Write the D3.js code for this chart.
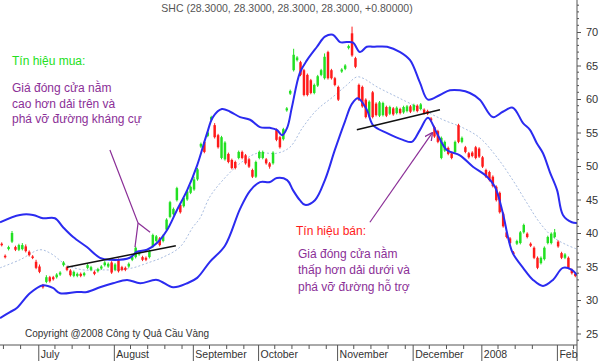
<!DOCTYPE html>
<html><head><meta charset="utf-8">
<script src="https://cdn.jsdelivr.net/npm/d3@7"></script>
<style>body{margin:0;background:#fff}svg{display:block}text{font-family:"Liberation Sans",Arial,sans-serif}</style>
</head><body>
<script>
const title = "SHC (28.3000, 28.3000, 28.3000, 28.3000, +0.80000)";
const open = [38.4,36.6,37.6,38.7,37.9,37.5,37.6,38.0,37.2,36.5,35.7,35.0,32.2,32.7,33.4,33.4,33.4,33.8,35.2,34.9,34.4,33.6,33.6,33.9,33.7,34.8,34.5,34.2,34.3,34.7,35.2,35.0,35.6,34.5,36.0,34.9,34.8,35.0,36.0,36.4,36.8,36.4,36.3,36.4,38.0,38.8,39.2,38.8,40.5,42.4,42.8,44.9,44.2,44.0,45.0,46.0,46.5,48.0,52.9,53.6,54.5,56.9,56.1,54.6,51.2,51.0,51.8,50.9,50.6,51.2,52.1,51.6,51.0,49.4,48.4,51.2,51.2,51.0,50.4,50.4,55.4,54.3,54.0,58.3,60.8,64.3,65.8,65.5,64.3,63.6,62.8,60.9,62.0,63.6,63.1,67.0,64.3,63.1,61.8,64.1,64.5,67.6,69.8,66.1,62.1,61.8,59.9,57.4,61.0,59.3,57.5,57.6,58.8,57.8,58.6,57.9,58.5,58.0,58.2,58.9,58.3,59.0,58.5,58.4,58.2,57.1,55.8,55.2,51.2,52.3,52.7,51.9,52.1,56.1,53.6,52.8,51.9,52.0,52.8,52.6,51.3,49.4,49.1,48.4,46.9,46.0,42.9,40.1,39.2,37.1,38.4,38.5,40.1,39.9,38.4,37.8,36.3,35.5,36.1,38.5,38.5,39.4,38.7,37.0,36.3,36.3,34.5,33.9];
const close = [38.2,36.4,37.9,40.0,37.5,38.2,38.2,37.3,36.7,36.3,34.8,34.2,31.9,33.4,32.8,33.1,33.8,34.1,35.6,34.5,33.7,34.2,33.9,33.6,34.0,35.2,34.9,33.9,34.6,35.0,35.6,35.4,34.1,35.3,34.3,34.5,34.5,35.4,36.4,37.8,37.1,36.0,36.0,37.3,39.7,39.5,38.2,39.6,42.0,44.6,43.6,46.7,43.1,45.2,46.2,46.9,48.0,49.5,53.3,52.1,55.0,57.3,54.3,52.8,54.3,53.5,50.6,49.7,49.7,52.1,51.2,50.4,49.9,48.4,50.6,52.1,52.1,50.4,49.9,52.0,53.9,52.8,55.5,58.6,61.2,66.6,66.2,63.6,60.6,60.6,60.9,62.1,63.4,64.3,66.3,63.1,63.1,62.1,59.9,64.4,65.0,67.9,66.5,64.8,59.9,58.9,57.3,59.6,57.3,57.6,59.5,59.4,57.5,58.8,57.7,58.7,57.9,58.8,58.9,58.1,59.1,58.2,59.2,57.9,57.8,56.8,54.4,53.6,54.2,53.6,51.8,51.2,53.6,53.6,54.2,52.1,51.3,51.5,51.2,51.4,49.9,48.4,47.9,47.0,44.9,43.1,41.0,39.4,38.5,36.9,38.8,40.1,41.2,39.4,38.1,36.3,34.8,36.3,37.8,39.4,39.9,40.1,38.0,36.3,36.8,34.8,34.0,33.6];
const high = [38.6,36.8,38.1,40.3,38.1,38.4,38.5,38.3,37.4,36.7,36.0,35.3,32.4,33.7,33.6,33.6,34.0,34.3,35.8,35.1,34.6,34.4,34.1,34.1,34.2,35.4,35.1,34.4,34.8,35.2,35.8,35.6,35.8,35.5,36.2,35.1,35.0,35.6,36.6,38.0,37.3,36.6,36.5,37.5,39.9,39.7,39.4,39.8,42.2,44.8,43.8,46.9,44.4,45.4,46.4,47.1,48.4,49.7,53.5,53.8,55.2,57.5,56.4,54.8,54.5,53.7,52.0,51.1,50.8,52.3,52.3,51.8,51.2,49.6,50.8,52.3,52.3,51.2,50.6,52.2,55.6,54.5,55.7,58.8,61.4,67.5,66.4,65.7,64.5,63.8,63.0,62.3,63.6,64.5,66.8,67.2,64.5,63.3,62.0,64.6,65.2,68.1,70.8,66.3,62.3,62.0,60.1,59.8,61.2,59.5,59.7,59.6,59.0,59.0,58.8,58.9,58.7,59.0,59.1,59.1,59.3,59.2,59.4,58.6,58.4,57.3,56.0,55.4,54.4,53.8,52.9,52.1,53.8,56.3,54.4,53.0,52.1,52.2,53.0,52.8,51.5,49.6,49.3,48.6,47.1,46.2,43.1,40.3,39.4,37.3,39.0,40.3,41.4,40.1,38.6,38.0,36.5,36.5,38.0,39.6,40.1,40.6,38.9,37.2,37.0,36.5,34.7,34.1];
const low = [38.0,36.2,37.4,38.5,37.3,37.3,37.4,37.1,36.5,36.1,34.6,34.0,31.7,32.5,32.6,32.9,33.2,33.6,35.0,34.3,33.5,33.4,33.4,33.4,33.5,34.6,34.3,33.7,34.1,34.5,35.0,34.8,33.9,34.3,34.1,34.3,34.3,34.8,35.8,36.2,36.6,35.8,35.8,36.2,37.8,38.6,38.0,38.6,40.3,42.2,42.6,44.7,42.9,43.8,44.8,45.8,46.3,47.8,52.7,51.9,54.3,56.7,54.1,52.6,51.0,50.8,50.4,49.5,49.5,51.0,51.0,50.2,49.7,48.2,48.2,51.0,51.0,50.2,49.6,50.2,53.7,52.6,53.8,58.1,60.6,64.1,65.6,63.4,60.4,60.4,60.7,60.7,61.8,63.4,62.9,62.9,62.9,61.9,59.7,63.9,64.3,67.4,66.3,64.6,59.7,58.7,57.1,57.2,57.1,57.4,57.3,57.4,57.3,57.6,57.5,57.7,57.7,57.8,58.0,57.9,58.1,58.0,58.3,57.7,57.6,56.6,54.2,53.4,51.0,52.1,51.6,51.0,51.9,53.4,53.4,51.9,51.1,51.3,51.0,51.2,49.7,48.2,47.7,46.8,44.7,42.9,40.8,39.2,38.3,36.7,38.2,38.3,39.9,39.2,37.9,36.1,34.6,35.3,35.9,38.3,38.3,39.2,37.8,36.1,36.1,34.6,33.8,33.4];

// Bollinger bands as [day index, value]
const upperBand = [[-0.5,41.6],[5.3,42.7],[9.1,42.7],[12.0,42.2],[15.5,42.2],[17.8,40.9],[20.8,39.4],[24.8,37.9],[28.6,36.3],[31.5,36.0],[37.3,36.3],[39.4,37.2],[42.3,37.5],[45.2,38.5],[48.1,40.4],[51.0,43.4],[54.0,46.4],[56.9,50.1],[59.8,54.9],[61.5,57.3],[64.1,58.5],[66.5,58.1],[69.4,57.3],[72.3,56.9],[75.2,55.8],[78.1,55.7],[80.1,55.4],[81.6,54.6],[83.1,55.7],[84.5,58.8],[86.8,63.9],[88.9,65.8],[91.8,67.8],[94.1,69.3],[96.4,69.6],[98.5,68.5],[100.5,68.5],[102.3,68.4],[104.3,67.0],[106.3,67.8],[108.1,67.8],[112.2,67.8],[116.0,67.0],[118.9,65.8],[121.8,62.4],[124.1,59.9],[127.6,60.6],[130.5,61.3],[133.4,61.3],[136.3,60.9],[139.2,59.9],[143.0,57.3],[145.9,58.1],[148.8,58.7],[151.8,56.4],[153.8,55.4],[155.8,53.4],[157.6,51.9],[159.6,49.1],[161.7,46.4],[163.4,42.7],[166.0,41.6],[167.5,41.5]];
const lowerBand = [[-0.5,27.3],[2.4,28.2],[4.4,28.8],[8.2,31.0],[12.0,32.2],[14.9,31.8],[17.0,31.0],[21.9,31.2],[24.8,31.2],[28.6,31.9],[32.4,32.5],[36.5,33.0],[40.3,32.5],[45.2,33.0],[49.9,31.9],[54.0,32.5],[56.9,33.3],[60.6,35.7],[65.0,38.1],[69.4,43.6],[72.3,46.3],[75.2,47.6],[78.1,47.6],[80.1,48.2],[83.1,47.9],[84.8,46.4],[86.8,44.9],[88.3,44.2],[91.2,44.9],[94.1,47.9],[97.0,52.4],[99.9,56.6],[102.0,59.3],[103.7,60.1],[106.3,58.4],[108.1,56.1],[112.2,54.9],[116.8,53.9],[119.4,53.6],[121.8,55.4],[124.1,57.2],[126.7,54.9],[129.6,52.4],[133.4,51.6],[137.2,49.9],[141.3,48.4],[143.6,46.9],[145.9,43.0],[147.4,39.4],[148.8,37.0],[151.8,34.8],[154.7,33.0],[157.6,32.1],[160.5,33.0],[163.4,34.8],[166.0,34.5],[167.5,33.7]];
const middleBand = [[-0.5,34.8],[5.3,36.0],[11.1,37.5],[14.1,37.0],[19.0,35.2],[23.7,34.5],[28.6,34.5],[33.6,34.5],[38.2,34.8],[42.3,35.5],[47.0,36.4],[51.9,37.9],[55.7,40.9],[57.7,42.2],[60.6,45.4],[64.4,47.9],[69.4,50.4],[74.3,51.9],[80.1,51.9],[83.9,52.8],[87.7,55.8],[91.8,58.4],[96.4,60.3],[100.5,62.1],[103.4,63.3],[105.2,63.1],[109.3,61.8],[115.1,60.3],[122.6,58.4],[128.5,56.9],[134.3,55.7],[139.2,54.2],[144.2,51.3],[148.8,47.9],[152.9,44.5],[156.7,41.5],[160.5,39.4],[164.6,38.2],[167.5,37.6]];

// trend lines and annotation pointers [index, value]
const buyTrend = [[19,34.9],[50.7,38.1]];
const sellTrend = [[103.4,55.4],[127.6,58.4]];
const buyPointer = [[31.5,52.4],[39.7,41.5],[38.8,37.9]];
const buyPointer2 = [[39.7,41.5],[43.2,40.1]];
const sellArrow = [[107.2,41.6],[125.3,54.9]];

const monthTicks = [11,33,56,75,98,120,140,162];
const monthLabels = ["July","August","September","October","November","December","2008","Feb"];
const weekTicks = [1,6,16,21,26,38,43,48,53,61,66,71,80,85,90,95,103,108,113,118,125,130,135,145,150,155,167];
const yTicks = [25,30,35,40,45,50,55,60,65,70];
const yMinor = [24,26,27,28,29,31,32,33,34,36,37,38,39,41,42,43,44,46,47,48,49,51,52,53,54,56,57,58,59,61,62,63,64,66,67,68,69,71,72,73,74];

const buyTitle = "Tín hiệu mua:";
const buyText = ["Giá đóng cửa nằm","cao hơn dải trên và","phá vỡ đường kháng cự"];
const sellTitle = "Tín hiệu bán:";
const sellText = ["Giá đóng cửa nằm","thấp hơn dải dưới và","phá vỡ đường hỗ trợ"];
const copyright = "Copyright  @2008 Công ty Quả Cầu Vàng";

const W = 600, H = 361, plotR = 577, plotB = 345;
const svg = d3.select("body").append("svg").attr("width", W).attr("height", H);
const x = d3.scaleLinear().domain([-0.5, open.length - 0.5]).range([0, plotR]);
const y = d3.scaleLinear().domain([70, 25]).range([32, 333.5]);
const step = x(1) - x(0);

const line = d3.line().x(d => x(d[0])).y(d => y(d[1]));
const smooth = d3.line().x(d => x(d[0])).y(d => y(d[1])).curve(d3.curveCatmullRom);

svg.append("defs").append("clipPath").attr("id","c").append("rect")
  .attr("x",0).attr("y",0).attr("width",plotR).attr("height",plotB);
const plot = svg.append("g").attr("clip-path","url(#c)");

// title
svg.append("text").attr("x", 287).attr("y", 12).attr("text-anchor","middle")
  .attr("font-size", 10.5).attr("fill","#555").text(title);

// middle band
plot.append("path").attr("d", smooth(middleBand)).attr("fill","none")
  .attr("stroke","#a9bde0").attr("stroke-width",1).attr("stroke-dasharray","2,2");

// candles
const idx = d3.range(open.length);
const cg = plot.append("g");
idx.forEach(i => {
  const up = close[i] >= open[i];
  const col = up ? "#22e022" : "#ff1a1a";
  cg.append("line").attr("x1", x(i)).attr("x2", x(i))
    .attr("y1", y(high[i])).attr("y2", y(low[i])).attr("stroke", col).attr("stroke-width", 1);
  const top = y(Math.max(open[i], close[i])), bot = y(Math.min(open[i], close[i]));
  cg.append("rect").attr("x", x(i) - step*0.36).attr("width", step*0.72)
    .attr("y", top).attr("height", Math.max(1.5, bot - top)).attr("fill", col);
});

// bands
[upperBand, lowerBand].forEach(b => plot.append("path").attr("d", smooth(b))
  .attr("fill","none").attr("stroke","#2b2bf0").attr("stroke-width",2));

// trend lines
[buyTrend, sellTrend].forEach(t => plot.append("path").attr("d", line(t))
  .attr("stroke","#111").attr("stroke-width",1.5).attr("fill","none"));

// pointers
const purple = "#8b2f97";
svg.append("defs").append("marker").attr("id","ah").attr("viewBox","0 0 10 10")
  .attr("refX",9).attr("refY",5).attr("markerWidth",7).attr("markerHeight",7).attr("orient","auto")
  .append("path").attr("d","M0,0 L10,5 L0,10").attr("fill","none").attr("stroke",purple).attr("stroke-width",1.5);
[buyPointer, buyPointer2].forEach(p => svg.append("path").attr("d", line(p))
  .attr("fill","none").attr("stroke", purple).attr("stroke-width",1.2));
svg.append("path").attr("d", line(sellArrow)).attr("fill","none")
  .attr("stroke", purple).attr("stroke-width",1.2).attr("marker-end","url(#ah)");

// annotation texts
svg.append("text").attr("x",12).attr("y",65).attr("font-size",12).attr("fill","#22e022").text(buyTitle);
buyText.forEach((t,k) => svg.append("text").attr("x",12).attr("y",92 + k*15.5)
  .attr("font-size",12).attr("fill",purple).text(t));
svg.append("text").attr("x",296).attr("y",235).attr("font-size",12).attr("fill","#ff1a1a").text(sellTitle);
sellText.forEach((t,k) => svg.append("text").attr("x",298).attr("y",258 + k*16.3)
  .attr("font-size",12).attr("fill",purple).text(t));
svg.append("text").attr("x",25).attr("y",337).attr("font-size",10).attr("fill","#333").text(copyright);

// axes
const axisCol = "#555";
svg.append("line").attr("x1",0).attr("x2",plotR).attr("y1",plotB).attr("y2",plotB).attr("stroke",axisCol);
svg.append("line").attr("x1",plotR).attr("x2",plotR).attr("y1",0).attr("y2",H).attr("stroke",axisCol);
const yAxis = d3.axisRight(y).tickValues(yTicks).tickSize(4).tickPadding(5);
const ya = svg.append("g").attr("transform",`translate(${plotR},0)`).call(yAxis);
ya.select(".domain").remove();
ya.selectAll("line").attr("stroke",axisCol);
ya.selectAll("text").attr("font-size",11).attr("fill","#333").attr("font-family",'"Liberation Sans",Arial,sans-serif');
svg.append("g").selectAll("line").data(yMinor).join("line")
  .attr("x1",plotR).attr("x2",plotR+2).attr("y1",d=>y(d)).attr("y2",d=>y(d)).attr("stroke",axisCol);

const xg = svg.append("g");
xg.selectAll("line.w").data(weekTicks).join("line").attr("class","w")
  .attr("x1",d=>x(d-0.5)).attr("x2",d=>x(d-0.5)).attr("y1",plotB).attr("y2",plotB+4).attr("stroke",axisCol);
xg.selectAll("line.m").data(monthTicks).join("line").attr("class","m")
  .attr("x1",d=>x(d-0.5)+1).attr("x2",d=>x(d-0.5)+1).attr("y1",plotB).attr("y2",H).attr("stroke",axisCol);
xg.selectAll("text").data(monthTicks).join("text")
  .attr("x",d=>x(d-0.5)+3).attr("y",358).attr("font-size",10.5).attr("fill","#333")
  .text((d,k)=>monthLabels[k]);
</script>
</body></html>
